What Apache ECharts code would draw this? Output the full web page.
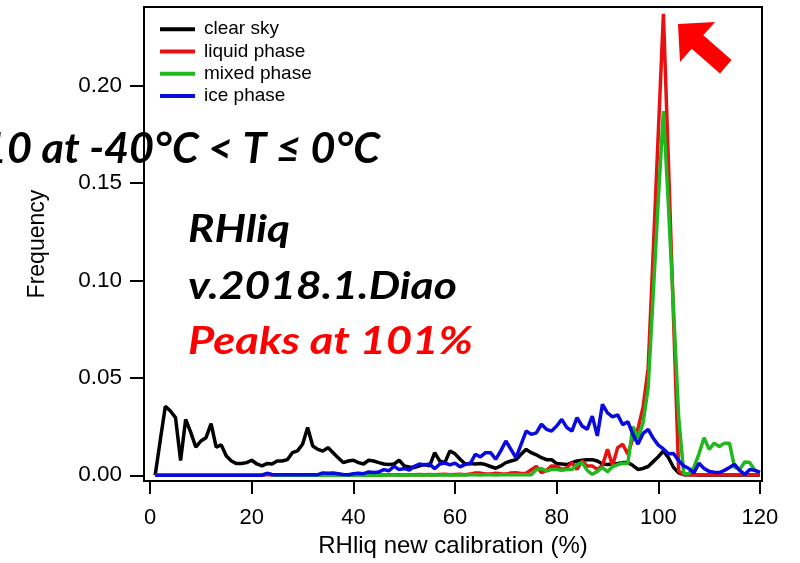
<!DOCTYPE html>
<html><head><meta charset="utf-8">
<script src="https://cdn.jsdelivr.net/npm/echarts@6/dist/echarts.min.js"></script>
<style>html,body{margin:0;padding:0;background:#fff}#chart{width:800px;height:563px}</style>
</head><body><div id="chart"></div>
<script>
const seriesNames = ['clear sky', 'liquid phase', 'mixed phase', 'ice phase'];
const seriesColors = ['#000000', '#e81010', '#1fb81f', '#0a0ae0'];

// RHliq bins (%), 1..120
const rhBins = Array.from({length: 120}, (_, i) => i + 1);

const clearSky = [
  0.000,0.018,0.0355,0.033,0.0296,0.0075,0.0287,0.022,0.0144,0.0176,
  0.0193,0.0265,0.0144,0.0156,0.0099,0.0073,0.006,0.006,0.0065,0.0077,
  0.0058,0.0048,0.006,0.0058,0.0073,0.0073,0.008,0.0116,0.0125,0.0159,
  0.0245,0.015,0.0133,0.0124,0.0142,0.0116,0.009,0.0065,0.0073,0.0077,
  0.0065,0.0058,0.0077,0.0073,0.0065,0.0058,0.0055,0.0058,0.0077,0.0048,
  0.0043,0.004,0.0048,0.0055,0.0048,0.0116,0.0073,0.0065,0.0125,0.011,
  0.0082,0.0058,0.006,0.0058,0.006,0.0055,0.0045,0.0036,0.0048,0.0065,
  0.0073,0.008,0.0108,0.0133,0.0116,0.0105,0.009,0.008,0.008,0.006,
  0.0058,0.0055,0.0065,0.0073,0.0077,0.008,0.008,0.0073,0.0058,0.0055,
  0.0058,0.006,0.0065,0.0065,0.005,0.003,0.0035,0.0045,0.007,0.0095,
  0.0125,0.009,0.004,0.0012,0.0003,0.0002,0.0002,0.0001,0.0002,0.0001,
  0.0001,0.0002,0.0001,0.0001,0.0002,0.0001,0.0001,0.0001,0.0002,0.0001
];

const liquidPhase = [
  0,0,0,0,0,0,0,0,0,0,
  0,0,0,0,0,0,0,0,0,0,
  0,0,0.0004,0.0001,0,0,0,0,0,0,
  0,0,0.0001,0.0002,0.0001,0,0.0001,0,0,0.0001,
  0.0001,0.0002,0.0001,0.0001,0.0002,0.0001,0.0002,0.0003,0.0002,0.0001,
  0.0002,0.0003,0.0004,0.0003,0.0004,0.0002,0.0004,0.0005,0.0003,0.0004,
  0.0005,0.0003,0.0006,0.0012,0.0011,0.0006,0.0007,0.0011,0.0008,0.0006,
  0.0012,0.0013,0.0009,0.001,0.0028,0.0045,0.0014,0.0025,0.0048,0.0046,
  0.003,0.0038,0.0065,0.003,0.0073,0.0048,0.0048,0.003,0.005,0.0133,
  0.005,0.0142,0.0159,0.0108,0.019,0.024,0.035,0.055,0.115,0.176,
  0.237,0.16,0.08,0.002,0.0004,0.0003,0.0003,0.0002,0.0003,0.0003,
  0.0002,0.0003,0.0003,0.0002,0.0003,0.0003,0.0002,0.0003,0.0003,0.0002
];

const mixedPhase = [
  0,0,0,0,0,0,0,0,0,0,
  0,0,0,0,0,0,0,0,0,0,
  0,0,0.0008,0.0002,0,0,0,0,0,0,
  0,0,0,0.0001,0,0,0.0001,0,0,0,
  0,0.0001,0,0,0.0001,0,0.0001,0.0001,0,0.0001,
  0.0001,0.0001,0.0001,0.0001,0.0002,0.0001,0.0001,0.0002,0.0001,0.0001,
  0.0002,0.0001,0.0002,0.0002,0.0001,0.0002,0.0002,0.0001,0.0002,0.0002,
  0.0002,0.0002,0.0002,0.0002,0.0003,0.003,0.0035,0.0022,0.003,0.003,
  0.0025,0.003,0.003,0.0055,0.0065,0.0025,0.0005,0.002,0.004,0.0018,
  0.0045,0.0055,0.0062,0.006,0.025,0.019,0.027,0.045,0.093,0.142,
  0.187,0.138,0.085,0.03,0.0008,0.0008,0.004,0.011,0.0193,0.0133,
  0.0165,0.0148,0.0165,0.0165,0.004,0.003,0.0068,0.0065,0.0025,0.0015
];

const icePhase = [
  0,0,0,0,0,0,0,0,0,0,
  0,0,0,0,0,0,0,0,0,0,
  0,0,0.001,0.0004,0.0002,0.0002,0.0002,0.0003,0.0002,0.0002,
  0.0003,0.0002,0.0003,0.0012,0.001,0.0012,0.0008,0.0004,0.0003,0.0008,
  0.001,0.0008,0.0017,0.0014,0.0017,0.0029,0.0023,0.0046,0.0029,0.0035,
  0.0027,0.0046,0.0058,0.0053,0.0058,0.0033,0.0058,0.0063,0.0053,0.0062,
  0.0043,0.0056,0.006,0.0108,0.0094,0.0116,0.0116,0.0082,0.0125,0.0176,
  0.0133,0.009,0.0159,0.0227,0.021,0.0218,0.0262,0.0236,0.0227,0.0253,
  0.0287,0.0245,0.0227,0.0296,0.0253,0.0236,0.0304,0.0202,0.0364,0.032,
  0.030,0.031,0.026,0.0275,0.021,0.016,0.0215,0.0236,0.019,0.0155,
  0.0135,0.011,0.0112,0.0075,0.0048,0.0035,0.0012,0.0062,0.0035,0.002,
  0.0016,0.0014,0.0025,0.004,0.0056,0.0025,0.0004,0.003,0.0025,0.0015
];

const xTicks = [0, 20, 40, 60, 80, 100, 120];
const yTicks = [0, 0.05, 0.10, 0.15, 0.20];
const xAxisTitle = 'RHliq new calibration (%)';
const yAxisTitle = 'Frequency';
const headline = '10 at -40°C < T ≤ 0°C';
const headlineVisible = '0 at -40°C < T ≤ 0°C';
const noteLines = ['RHliq', 'v.2018.1.Diao', 'Peaks at 101%'];

const axisFont = '"Liberation Sans", Arial, Helvetica, sans-serif';
const noteFamily = 'Lato, "Open Sans", sans-serif';

function textWidth(text, font) {
  const ctx = document.createElement('canvas').getContext('2d');
  ctx.font = font;
  return ctx.measureText(text).width;
}

const headSize = 42;
const headScale = 373 / textWidth(headlineVisible, `italic bold ${headSize}px Lato`);
const noteSize = 38;
const noteWidths = [102, 269, 285];
const noteScales = noteLines.map((t, i) => noteWidths[i] / textWidth(t, `italic bold ${noteSize}px Lato`));
const noteY = [230, 287, 342];
const noteColors = ['#000000', '#000000', '#ff0000'];

const chart = echarts.init(document.getElementById('chart'), null, {renderer: 'canvas'});

const seriesData = [clearSky, liquidPhase, mixedPhase, icePhase];

chart.setOption({
  animation: false,
  backgroundColor: '#ffffff',
  grid: {left: 144, right: 38, top: 7, bottom: 81, show: true, borderColor: '#000', borderWidth: 2, backgroundColor: 'transparent'},
  legend: {
    orient: 'vertical', left: 160, top: 18, padding: 0, itemGap: 0,
    itemWidth: 35, itemHeight: 4, icon: 'rect',
    data: seriesNames,
    textStyle: {fontSize: 19, fontFamily: axisFont, color: '#000', lineHeight: 22.3, padding: [0, 0, 0, 4]}
  },
  xAxis: {
    type: 'value', min: -1.2, max: 120.4,
    axisLine: {show: true, onZero: false, lineStyle: {color: '#000', width: 2}},
    axisTick: {show: true, customValues: xTicks, length: 13, inside: false, lineStyle: {color: '#000', width: 2}},
    axisLabel: {customValues: xTicks, margin: 26, fontSize: 22, color: '#000', fontFamily: axisFont},
    splitLine: {show: false},
    name: xAxisTitle, nameLocation: 'middle', nameGap: 51,
    nameTextStyle: {fontSize: 24, color: '#000', fontFamily: axisFont}
  },
  yAxis: {
    type: 'value', min: -0.003, max: 0.2405,
    axisLine: {show: true, onZero: false, lineStyle: {color: '#000', width: 2}},
    axisTick: {show: true, customValues: yTicks, length: 14, inside: false, lineStyle: {color: '#000', width: 2}},
    axisLabel: {customValues: yTicks, margin: 22, fontSize: 22.5, color: '#000', fontFamily: axisFont,
      formatter: v => v.toFixed(2)},
    splitLine: {show: false},
    name: yAxisTitle, nameLocation: 'middle', nameGap: 95, nameRotate: 90,
    nameTextStyle: {fontSize: 23, color: '#000', fontFamily: axisFont}
  },
  series: seriesNames.map((name, k) => ({
    name, type: 'line', showSymbol: false, symbol: 'none',
    data: rhBins.map((x, i) => [x, seriesData[k][i]]),
    lineStyle: {width: 3.5, color: seriesColors[k]},
    itemStyle: {color: seriesColors[k]},
    z: 2 + k
  })),
  graphic: [
    {type: 'text', x: 380, y: 149, scaleX: headScale, z: 100,
      style: {text: headline, font: `italic bold ${headSize}px ${noteFamily}`, fill: '#000', align: 'right', verticalAlign: 'middle'}}
  ].concat(noteLines.map((t, i) => ({
    type: 'text', x: 188, y: noteY[i], scaleX: noteScales[i], z: 100,
    style: {text: t, font: `italic bold ${noteSize}px ${noteFamily}`, fill: noteColors[i], align: 'left', verticalAlign: 'middle'}
  }))).concat([
    {type: 'polygon', z: 100,
      shape: {points: [[678, 24], [715, 22], [703.3, 35.3], [731.6, 60], [720, 73.4], [691.7, 48.7], [680, 62]]},
      style: {fill: '#ff0000'}}
  ])
});
</script>
</body></html>
